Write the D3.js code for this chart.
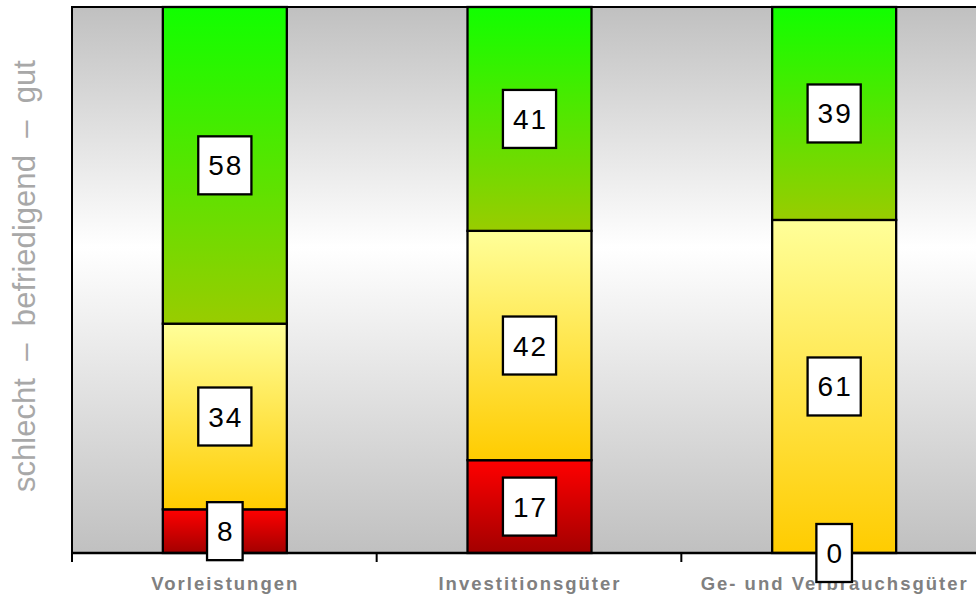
<!DOCTYPE html>
<html>
<head>
<meta charset="utf-8">
<script src="https://cdn.jsdelivr.net/npm/d3@7"></script>
<style>
  html, body { margin: 0; padding: 0; background: #ffffff; }
  svg { display: block; }
  text { font-family: "Liberation Sans", Arial, sans-serif; }
</style>
</head>
<body>
<svg id="chart" width="976" height="598"></svg>
<script>
// ---- data ----
const categories = ["Vorleistungen", "Investitionsgüter", "Ge- und Verbrauchsgüter"];
const seriesKeys = ["schlecht", "befriedigend", "gut"];
const schlecht = [8, 17, 0];
const befriedigend = [34, 42, 61];
const gut = [58, 41, 39];
const yTitle = "schlecht  –  befriedigend  –  gut";

const rows = categories.map((c, i) => ({
  cat: c, schlecht: schlecht[i], befriedigend: befriedigend[i], gut: gut[i]
}));

// ---- layout ----
const plot = { left: 72, right: 986, top: 7, bottom: 553 };
const svg = d3.select("#chart");
const defs = svg.append("defs");

const x = d3.scaleBand().domain(categories).range([plot.left, plot.right]).padding(0);
const y = d3.scaleLinear().domain([0, 100]).range([plot.bottom, plot.top]);
const barW = 124;

// gradients
function vGrad(id, stops) {
  const g = defs.append("linearGradient").attr("id", id)
    .attr("x1", 0).attr("y1", 0).attr("x2", 0).attr("y2", 1);
  stops.forEach(s => g.append("stop").attr("offset", s[0]).attr("stop-color", s[1]));
}
vGrad("bg", [[0, "#c0c0c0"], [0.44, "#ffffff"], [1, "#c0c0c0"]]);
vGrad("g-schlecht", [[0, "#ff0000"], [1, "#a30000"]]);
vGrad("g-befriedigend", [[0, "#ffff99"], [1, "#ffcc00"]]);
vGrad("g-gut", [[0, "#11ff00"], [1, "#99cc00"]]);

// plot background
svg.append("rect")
  .attr("x", plot.left).attr("y", plot.top)
  .attr("width", plot.right - plot.left).attr("height", plot.bottom - plot.top)
  .attr("fill", "url(#bg)");

// stacked bars
const stack = d3.stack().keys(seriesKeys)(rows);
const layers = svg.append("g").selectAll("g").data(stack).join("g")
  .attr("fill", d => `url(#g-${d.key})`);
layers.selectAll("rect").data(d => d.map(v => ({ v, key: d.key }))).join("rect")
  .attr("x", d => x(d.v.data.cat) + (x.bandwidth() - barW) / 2 + 0.5)
  .attr("y", d => y(d.v[1]))
  .attr("width", barW)
  .attr("height", d => y(d.v[0]) - y(d.v[1]))
  .attr("stroke", "#000")
  .attr("stroke-width", 2.3);

// frame lines
svg.append("line").attr("x1", plot.left).attr("x2", plot.right)
  .attr("y1", plot.top).attr("y2", plot.top).attr("stroke", "#000").attr("stroke-width", 2);
svg.append("line").attr("x1", plot.left).attr("x2", plot.left)
  .attr("y1", plot.top - 1).attr("y2", plot.bottom).attr("stroke", "#000").attr("stroke-width", 2);

// x axis: line + ticks at category boundaries
svg.append("line").attr("x1", plot.left - 1).attr("x2", plot.right)
  .attr("y1", plot.bottom).attr("y2", plot.bottom).attr("stroke", "#000").attr("stroke-width", 2.3);
const tickXs = categories.map(c => x(c)).concat([plot.right]);
svg.append("g").selectAll("line").data(tickXs).join("line")
  .attr("x1", d => d).attr("x2", d => d)
  .attr("y1", plot.bottom).attr("y2", plot.bottom + 9)
  .attr("stroke", "#000").attr("stroke-width", 2);

// category labels
svg.append("g").selectAll("text").data(categories).join("text")
  .attr("x", d => x(d) + x.bandwidth() / 2 + 1)
  .attr("y", 590)
  .attr("text-anchor", "middle")
  .attr("font-size", 18.5)
  .attr("font-weight", "bold")
  .attr("letter-spacing", "2px")
  .attr("fill", "#808080")
  .text(d => d);

// value labels (boxes)
const labels = [];
stack.forEach(layer => layer.forEach(v => labels.push({
  cat: v.data.cat, val: v.data[layer.key], cy: (y(v[0]) + y(v[1])) / 2
})));
const lg = svg.append("g");
labels.forEach(d => {
  const cx = x(d.cat) + x.bandwidth() / 2 + 0.5;
  const g = lg.append("g");
  const box = g.append("rect");
  const t = g.append("text")
    .attr("x", cx + 1).attr("y", d.cy + 10)
    .attr("text-anchor", "middle")
    .attr("font-size", 28)
    .attr("letter-spacing", "2px")
    .attr("fill", "#000")
    .text(d.val);
  const w = t.node().getComputedTextLength() + 18;
  const h = 58;
  box.attr("x", cx - w / 2).attr("y", d.cy - h / 2)
    .attr("width", w).attr("height", h)
    .attr("fill", "#fff").attr("stroke", "#000").attr("stroke-width", 2.3);
});

// y title
svg.append("text")
  .attr("transform", "translate(35,276) rotate(-90)")
  .attr("text-anchor", "middle")
  .attr("font-size", 31)
  .attr("fill", "#a8a8a8")
  .attr("textLength", 432)
  .attr("lengthAdjust", "spacing")
  .style("white-space", "pre")
  .text(yTitle);
</script>
</body>
</html>
